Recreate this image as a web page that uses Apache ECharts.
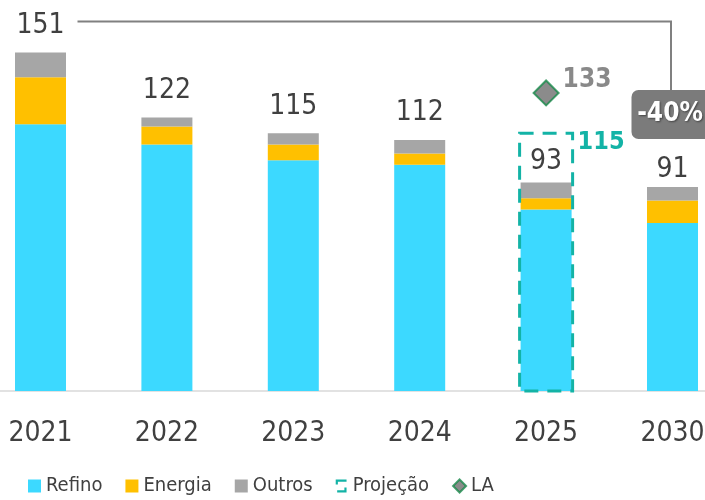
<!DOCTYPE html>
<html>
<head>
<meta charset="utf-8">
<script src="https://cdn.jsdelivr.net/npm/echarts@6/dist/echarts.min.js"></script>
<style>
  html, body { margin: 0; padding: 0; background: #fff; }
  #chart { width: 705px; height: 500px; }
</style>
</head>
<body>
<div id="chart"></div>
<script>
// Categories and stacked components (Refino / Energia / Outros)
const years   = ['2021', '2022', '2023', '2024', '2025', '2030'];
const refino  = [119, 110, 103, 101, 81, 75];
const energia = [21, 8, 7, 5, 5, 10];
const outros  = [11, 4, 5, 6, 7, 6];
// 2025 projection and LA reference point
const projecao = ['-', '-', '-', '-', 115, '-'];
const la       = ['-', '-', '-', '-', 133, '-'];

const FONT = "'Liberation Sans Narrow', 'DejaVu Sans Condensed', Roboto, sans-serif";
const TEXT = '#404040';
const TEAL = '#13b3a6';

const totals = years.map((_, i) => refino[i] + energia[i] + outros[i]);
const firstIdx = 0, lastIdx = years.length - 1;
const change = Math.round((totals[lastIdx] / totals[firstIdx] - 1) * 100);

const projData = projecao.map((v, i) => [i, v]).filter(d => d[1] !== '-');

// total labels sit a little closer to the bar on the last two (lower) columns
const outrosItems = outros.map((v, i) => i >= 4 ? { value: v, label: { distance: i === lastIdx ? 3 : 7 } } : v);

const chart = echarts.init(document.getElementById('chart'), null, { renderer: 'canvas' });

chart.setOption({
  animation: false,
  grid: { left: -22.7, right: -30.7, top: 10, bottom: 109, containLabel: false, outerBoundsMode: 'none' },
  xAxis: {
    type: 'category',
    data: years,
    axisTick: { show: false },
    axisLine: { lineStyle: { color: '#e2e2e2', width: 2 } },
    axisLabel: { color: TEXT, fontSize: 28, fontFamily: FONT, margin: 29 }
  },
  yAxis: { type: 'value', min: 0, max: 170, show: false },
  legend: {
    left: 28,
    top: 476,
    padding: 0,
    itemWidth: 13,
    itemHeight: 13,
    itemGap: 23,
    icon: 'rect',
    textStyle: { color: TEXT, fontSize: 20, fontFamily: FONT },
    data: [
      { name: 'Refino' },
      { name: 'Energia' },
      { name: 'Outros' },
      { name: 'Projeção', icon: 'path://M0,0H15V3H3V7H0Z M15,18H2V15H12V11H15Z', itemStyle: { color: TEAL } },
      { name: 'LA', icon: 'diamond' }
    ]
  },
  series: [
    {
      name: 'Refino', type: 'bar', stack: 'total', barWidth: 51,
      itemStyle: { color: '#3cd9ff' },
      data: refino
    },
    {
      name: 'Energia', type: 'bar', stack: 'total', barWidth: 51,
      itemStyle: { color: '#ffc000' },
      data: energia
    },
    {
      name: 'Outros', type: 'bar', stack: 'total', barWidth: 51,
      itemStyle: { color: '#a6a6a6' },
      data: outrosItems,
      label: {
        show: true, position: 'top', distance: 13,
        color: TEXT, fontSize: 28, fontFamily: FONT,
        formatter: p => String(totals[p.dataIndex])
      }
    },
    {
      name: 'Projeção', type: 'custom', z: 5,
      itemStyle: { color: TEAL },
      encode: { x: 0, y: 1 },
      data: projData,
      renderItem: (params, api) => {
        const idx = api.value(0), v = api.value(1);
        const top = api.coord([idx, v]);
        const base = api.coord([idx, 0]);
        const w = 53;
        return {
          type: 'group',
          children: [
            {
              type: 'rect',
              shape: { x: top[0] - w / 2, y: top[1], width: w, height: base[1] - top[1] },
              style: { fill: 'none', stroke: TEAL, lineWidth: 3, lineDash: [14, 9] }
            },
            {
              type: 'text',
              x: top[0] + w / 2 + 5, y: top[1] + 9,
              style: {
                text: String(v), fill: TEAL, fontSize: 25, fontWeight: 'bold',
                fontFamily: FONT, align: 'left', verticalAlign: 'middle'
              }
            }
          ]
        };
      }
    },
    {
      name: 'LA', type: 'scatter', z: 6,
      symbol: 'diamond', symbolSize: 25,
      itemStyle: { color: '#6e6e6e', borderColor: '#198a4b', borderWidth: 2 },
      data: la,
      label: {
        show: true, position: 'right', distance: 3, offset: [0, -13],
        color: '#6b6b6b', fontSize: 26, fontWeight: 'bold', fontFamily: FONT
      }
    },
    {
      // Bracket from the 2021 total to the 2030 total with the percentage change
      name: 'variacao', type: 'custom', silent: true, z: 4,
      encode: { x: [0, 2], y: [1, 3] },
      data: [[firstIdx, totals[firstIdx], lastIdx, totals[lastIdx]]],
      renderItem: (params, api) => {
        const p0 = api.coord([api.value(0), api.value(1)]);
        const p1 = api.coord([api.value(2), api.value(3)]);
        const lineY = p0[1] - 31;
        const xEnd = p1[0] - 1.5;
        const boxBottom = p1[1] - 48;
        const boxH = 49;
        const boxTop = boxBottom - boxH;
        return {
          type: 'group',
          children: [
            {
              type: 'polyline',
              shape: { points: [[p0[0] + 37, lineY], [xEnd, lineY], [xEnd, boxTop]] },
              style: { stroke: '#808080', lineWidth: 2, fill: 'none' }
            },
            {
              type: 'rect',
              shape: { x: p1[0] - 41, y: boxTop, width: 80, height: boxH, r: 7 },
              style: { fill: '#7b7b7b' }
            },
            {
              type: 'text',
              x: p1[0] - 2.5, y: boxTop + boxH / 2,
              style: {
                text: change + '%', fill: '#ffffff', fontSize: 26, fontWeight: 'bold',
                fontFamily: FONT, align: 'center', verticalAlign: 'middle',
                textShadowColor: 'rgba(0,0,0,0.45)', textShadowBlur: 2, textShadowOffsetX: 1, textShadowOffsetY: 1
              }
            }
          ]
        };
      }
    }
  ]
});
</script>
</body>
</html>
